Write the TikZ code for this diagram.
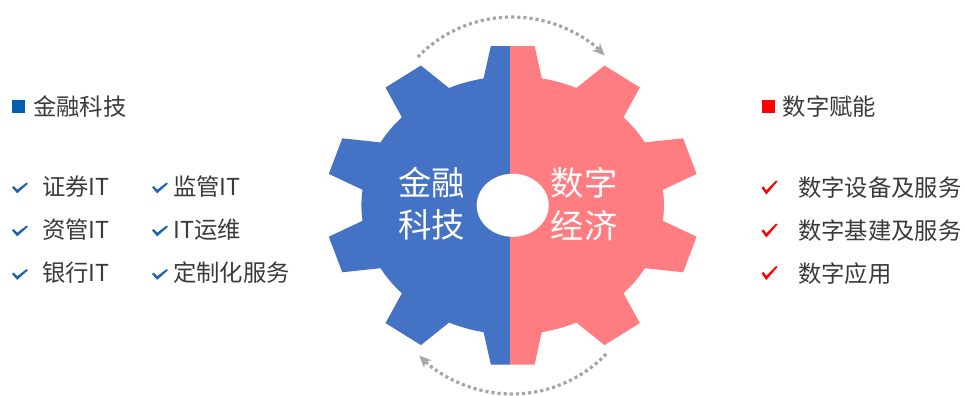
\documentclass[tikz,border=0pt]{standalone}
\usepackage{fontspec}
\setmainfont{Noto Sans CJK SC}
\usetikzlibrary{arrows.meta,shapes.geometric}
\definecolor{gearblue}{HTML}{4472C4}
\definecolor{gearpink}{HTML}{FF7C80}
\definecolor{txtgray}{HTML}{3A3A3A}
\definecolor{sqblue}{HTML}{0060B0}
\definecolor{chkblue}{HTML}{1F62B0}
\definecolor{dotgray}{HTML}{A6A6A6}
\tikzset{
  headtxt/.style={anchor=west, inner sep=0pt, text=txtgray, font=\fontsize{17.5}{20}\selectfont},
  itemtxt/.style={anchor=west, inner sep=0pt, text=txtgray, font=\fontsize{17.5}{20}\selectfont},
  gearlbl/.style={inner sep=0pt, text=white, align=center, font=\fontsize{25}{31.7}\selectfont},
  dotarrow/.style={draw=dotgray, line width=2.4pt, dash pattern=on 2.4pt off 2.2pt, -{Stealth[length=9pt,width=8pt]}},
  bluetick/.pic={\fill[chkblue] (-8,0.5) -- (-2.8,-5.3) -- (8,4.3) -- (6.5,5.4) -- (-2.8,-1.7) -- (-6.2,2) -- cycle;},
  redtick/.pic={\fill[red] (-8,-0.4) -- (-3.2,-7) -- (8,6) -- (6.5,7) -- (-3.2,-2.9) -- (-6,1.1) -- cycle;},
}
\newcommand{\gearpath}{%
  (101.1:129.3)
  \foreach \a in {90,54,18,-18,-54,-90,-126,-162,-198,-234}{
    -- (\a+6.7:160.3) -- (\a-6.7:160.3) -- (\a-11.1:129.3)
    arc[start angle=\a-11.1, end angle=\a-24.9, radius=129.3]
  } -- cycle}
\begin{document}
\begin{tikzpicture}[x=0.75pt,y=0.75pt]
\useasboundingbox (0,0) rectangle (965,-396);
\fill[white] (0,0) rectangle (965,-396);
% gear halves
\begin{scope}
  \clip (300,0) rectangle (510,-396);
  \fill[gearblue, shift={(512.7,-205.3)}, xscale=1.17] \gearpath;
\end{scope}
\begin{scope}
  \clip (510,0) rectangle (720,-396);
  \fill[gearpink, shift={(512.7,-205.3)}, xscale=1.17] \gearpath;
\end{scope}
\node[ellipse, fill=white, minimum width=54pt, minimum height=47.25pt, inner sep=0pt] (hole) at (512.7,-205.3) {};
\node[gearlbl] (gl) at (431.5,-204) {金融\\科技};
\node[gearlbl] (gr) at (584,-204) {数字\\经济};
% dotted arrows
\coordinate (tc) at (512,-148);
\coordinate (bc) at (512,-263);
\draw[dotarrow] (tc) ++(136:131) arc[start angle=136, end angle=45, radius=131];
\draw[dotarrow] (bc) ++(-44:131) arc[start angle=-44, end angle=-135, radius=131];
% left legend
\node[fill=sqblue, minimum size=9.75pt, inner sep=0pt] (sqL) at (18.5,-106.5) {};
\node[headtxt] (hL) at (33,-106.5) {金融科技};
\pic (c1) at (20,-188) {bluetick};
\node[itemtxt] (t1) at (42,-186.5) {证券IT};
\pic (c2) at (20,-231) {bluetick};
\node[itemtxt] (t2) at (42,-229.5) {资管IT};
\pic (c3) at (20,-274.5) {bluetick};
\node[itemtxt] (t3) at (42,-273) {银行IT};
\pic (c4) at (160,-188) {bluetick};
\node[itemtxt] (t4) at (173,-186.5) {监管IT};
\pic (c5) at (160,-231) {bluetick};
\node[itemtxt] (t5) at (173,-229.5) {IT运维};
\pic (c6) at (160,-274.5) {bluetick};
\node[itemtxt] (t6) at (173,-273) {定制化服务};
% right legend
\node[fill=red, minimum size=9.75pt, inner sep=0pt] (sqR) at (768.5,-106.5) {};
\node[headtxt] (hR) at (782.5,-106.5) {数字赋能};
\pic (r1) at (769.5,-187.5) {redtick};
\node[itemtxt] (u1) at (798,-188) {数字设备及服务};
\pic (r2) at (769.5,-230.5) {redtick};
\node[itemtxt] (u2) at (798,-231) {数字基建及服务};
\pic (r3) at (769.5,-273) {redtick};
\node[itemtxt] (u3) at (798,-273.5) {数字应用};
\end{tikzpicture}
\end{document}
